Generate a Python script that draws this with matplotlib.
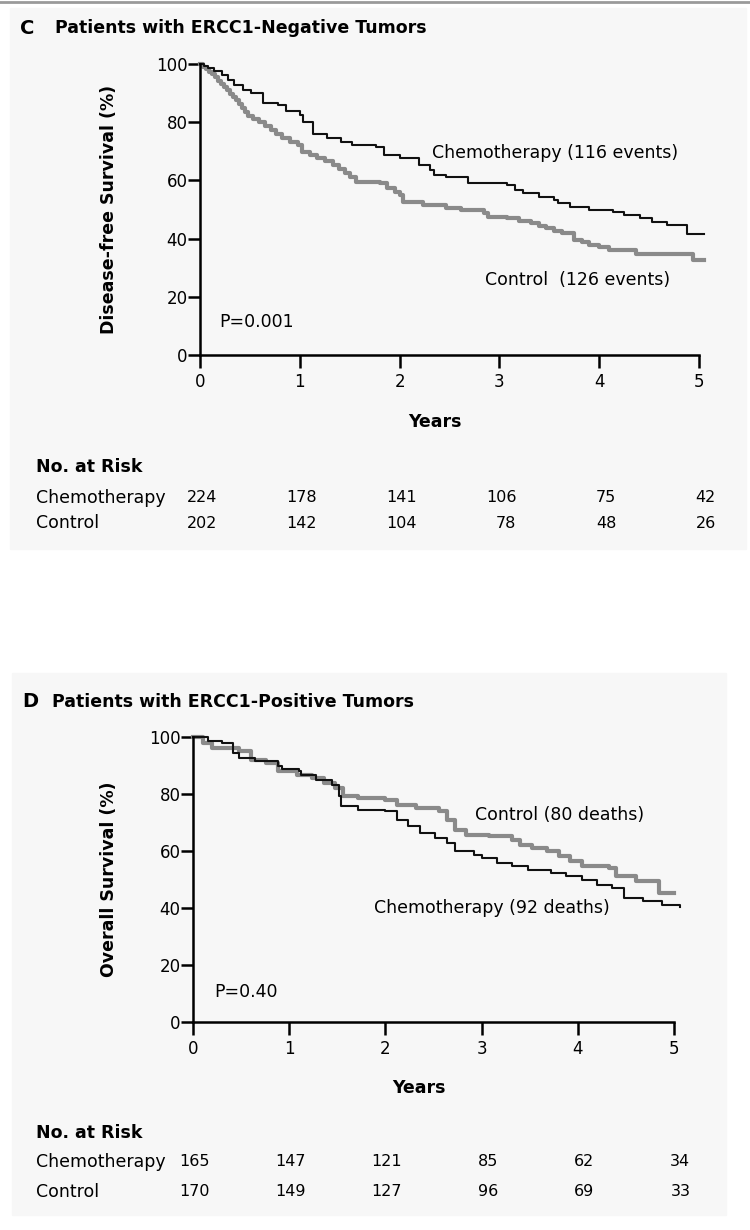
import matplotlib
matplotlib.use("Agg")
import matplotlib.pyplot as plt
from matplotlib.patches import Rectangle
from matplotlib.lines import Line2D
from matplotlib.transforms import blended_transform_factory

# panel C: ERCC1-negative, disease-free survival (step curves: time of drop, new level)
c_chemo_t = [0, 0.04, 0.08, 0.14, 0.22, 0.28, 0.34, 0.43, 0.51, 0.63, 0.78, 0.86, 1.0, 1.03,
             1.13, 1.27, 1.41, 1.52, 1.76, 1.84, 2.0, 2.19, 2.30, 2.34, 2.46, 2.69, 3.08, 3.16,
             3.24, 3.40, 3.55, 3.59, 3.71, 3.90, 4.14, 4.25, 4.41, 4.53, 4.68, 4.88, 5.05]
c_chemo_s = [100, 99.2, 98.5, 97.7, 96.2, 94.5, 92.8, 91, 90, 86.5, 86, 84, 82.5, 80.2,
             76, 74.5, 73.3, 72.2, 71.6, 68.7, 67.6, 65.3, 63.6, 61.9, 61.3, 59, 58.4, 56.7,
             55.6, 54.4, 53.3, 52.1, 51, 49.8, 49.3, 48.1, 47, 45.8, 44.7, 41.6, 41.6]
c_ctrl_t = [0, 0.03, 0.06, 0.09, 0.12, 0.15, 0.18, 0.21, 0.24, 0.27, 0.3, 0.33, 0.36, 0.39,
            0.42, 0.45, 0.48, 0.53, 0.59, 0.65, 0.71, 0.76, 0.82, 0.9, 0.98, 1.02, 1.1, 1.17,
            1.25, 1.33, 1.39, 1.45, 1.5, 1.56, 1.80, 1.87, 1.95, 2.0, 2.03, 2.23, 2.46, 2.62,
            2.85, 2.89, 3.08, 3.2, 3.32, 3.4, 3.47, 3.55, 3.63, 3.75, 3.83, 3.90, 4.0, 4.10,
            4.37, 4.94, 5.05]
c_ctrl_s = [100, 99, 98.2, 97.3, 96.4, 95.4, 94.3, 93.2, 92.2, 91, 89.8, 88.6, 87.6, 86.2,
            84.8, 83.4, 82.3, 81, 80.2, 78.6, 77.3, 75.8, 74.5, 73.3, 72.2, 69.9, 68.8, 67.6,
            66.5, 65.3, 63.8, 62.4, 61, 59.6, 59, 57.3, 56, 55, 52.7, 51.5, 50.4, 49.8,
            48.7, 47.5, 47, 46, 45.2, 44.4, 43.5, 42.7, 41.8, 39.5, 38.7, 37.8, 37, 36.1,
            34.7, 32.6, 32.6]
c_risk_chemo = [224, 178, 141, 106, 75, 42]
c_risk_ctrl = [202, 142, 104, 78, 48, 26]

# panel D: ERCC1-positive, overall survival
d_chemo_t = [0, 0.16, 0.3, 0.42, 0.48, 0.64, 0.88, 0.92, 1.1, 1.12, 1.28, 1.44, 1.52, 1.54,
             1.72, 2.0, 2.12, 2.24, 2.36, 2.52, 2.64, 2.72, 2.92, 3.0, 3.16, 3.32, 3.48, 3.72,
             3.88, 4.04, 4.2, 4.36, 4.48, 4.68, 4.88, 5.06]
d_chemo_s = [100, 98.5, 97.9, 94.4, 92.6, 91.5, 89.7, 88.8, 88, 86.8, 85, 83.3, 79.2, 75.9,
             74.5, 73.9, 71, 68.7, 66.3, 64.6, 62.8, 59.9, 58.7, 57.5, 55.8, 54.6, 53.4, 52.3,
             51.1, 49.9, 48.2, 47, 43.5, 42.3, 41.2, 40.5]
d_ctrl_t = [0, 0.1, 0.2, 0.48, 0.6, 0.76, 0.88, 1.08, 1.24, 1.36, 1.48, 1.56, 1.72, 2.0, 2.12,
            2.32, 2.56, 2.64, 2.72, 2.84, 3.08, 3.32, 3.4, 3.52, 3.68, 3.8, 3.92, 4.04, 4.32,
            4.4, 4.6, 4.84, 5.0]
d_ctrl_s = [100, 98, 96.1, 95, 92, 90.9, 88, 86.8, 85.6, 83.9, 82.1, 79.2, 78.6, 78, 76.3,
            75.1, 73.9, 71, 67.5, 65.7, 65.1, 64, 62.2, 61.1, 59.9, 58.1, 56.4, 54.6, 54,
            51.1, 49.4, 45.3, 45.3]
d_risk_chemo = [165, 147, 121, 85, 62, 34]
d_risk_ctrl = [170, 149, 127, 96, 69, 33]

years = [0, 1, 2, 3, 4, 5]
yticks = [0, 20, 40, 60, 80, 100]

W, H = 750, 1230
fig = plt.figure(figsize=(W / 100, H / 100), dpi=100)
fig.patch.set_facecolor("white")

plt.rcParams["font.family"] = "DejaVu Sans"


def fx(x):
    return x / W


def fy(y):
    return 1 - y / H


# panel backgrounds and top rule
fig.add_artist(Line2D([0, 1], [fy(2), fy(2)], color="#9a9a9a", lw=2))
fig.add_artist(Rectangle((fx(10), fy(549)), fx(736), 541 / H, color="#f7f7f7", zorder=0))
fig.add_artist(Rectangle((fx(12), fy(1215)), fx(714), 542 / H, color="#f7f7f7", zorder=0))


def panel(rect, letter, title, title_y, letter_x, title_x, ylabel, ylab_x,
          chemo, ctrl, labels, risk, risk_y):
    ax = fig.add_axes(rect)
    ax.set_facecolor("none")
    ax.step(ctrl[0], ctrl[1], where="post", color="#8a8a8a", lw=3.0, clip_on=False)
    ax.step(chemo[0], chemo[1], where="post", color="#111111", lw=1.5, clip_on=False)
    ax.set_xlim(0, 5)
    ax.set_ylim(0, 100)
    ax.set_xticks(years)
    ax.set_yticks(yticks)
    for s in ["top", "right"]:
        ax.spines[s].set_visible(False)
    for s in ["left", "bottom"]:
        ax.spines[s].set_linewidth(1.8)
    ax.tick_params(axis="both", length=9, width=1.8, labelsize=12, direction="out")
    ax.tick_params(axis="y", pad=0)
    ax.tick_params(axis="x", pad=4)
    ax.set_ylabel(ylabel, fontsize=12.5, fontweight="bold")
    ax.yaxis.set_label_coords(ylab_x, 0.5)
    ax.text(0.47, -0.23, "Years", transform=ax.transAxes, ha="center", va="center",
            fontsize=12.5, fontweight="bold")
    for (x, y, s) in labels:
        ax.text(x, y, s, ha="left", va="center", fontsize=12.5)

    fig.text(fx(letter_x), fy(title_y), letter, fontsize=14, fontweight="bold", va="center")
    fig.text(fx(title_x), fy(title_y), title, fontsize=12.5, fontweight="bold", va="center")

    tr = blended_transform_factory(ax.transData, fig.transFigure)
    fig.text(fx(36), fy(risk_y[0]), "No. at Risk", fontsize=12.5, fontweight="bold", va="center")
    fig.text(fx(36), fy(risk_y[1]), "Chemotherapy", fontsize=12.5, va="center")
    fig.text(fx(36), fy(risk_y[2]), "Control", fontsize=12.5, va="center")
    for yr, a, b in zip(years, risk[0], risk[1]):
        ax.text(yr + 0.17, fy(risk_y[1]), str(a), transform=tr, ha="right", va="center",
                fontsize=11.5, clip_on=False)
        ax.text(yr + 0.17, fy(risk_y[2]), str(b), transform=tr, ha="right", va="center",
                fontsize=11.5, clip_on=False)
    return ax


panel([fx(200), fy(355), 499 / W, 291 / H], "C", "Patients with ERCC1-Negative Tumors", 28,
      20, 55, "Disease-free Survival (%)", -0.164,
      (c_chemo_t, c_chemo_s), (c_ctrl_t, c_ctrl_s),
      [(2.32, 69.4, "Chemotherapy (116 events)"), (2.86, 25.8, "Control  (126 events)"),
       (0.19, 11.3, "P=0.001")],
      (c_risk_chemo, c_risk_ctrl), (467, 498, 523))

panel([fx(193), fy(1022), 481 / W, 285 / H], "D", "Patients with ERCC1-Positive Tumors", 702,
      22, 52, "Overall Survival (%)", -0.156,
      (d_chemo_t, d_chemo_s), (d_ctrl_t, d_ctrl_s),
      [(2.93, 72.6, "Control (80 deaths)"), (1.88, 40.0, "Chemotherapy (92 deaths)"),
       (0.22, 10.5, "P=0.40")],
      (d_risk_chemo, d_risk_ctrl), (1133, 1162, 1192))

fig.savefig("out.png", dpi=100)
plt.close(fig)
